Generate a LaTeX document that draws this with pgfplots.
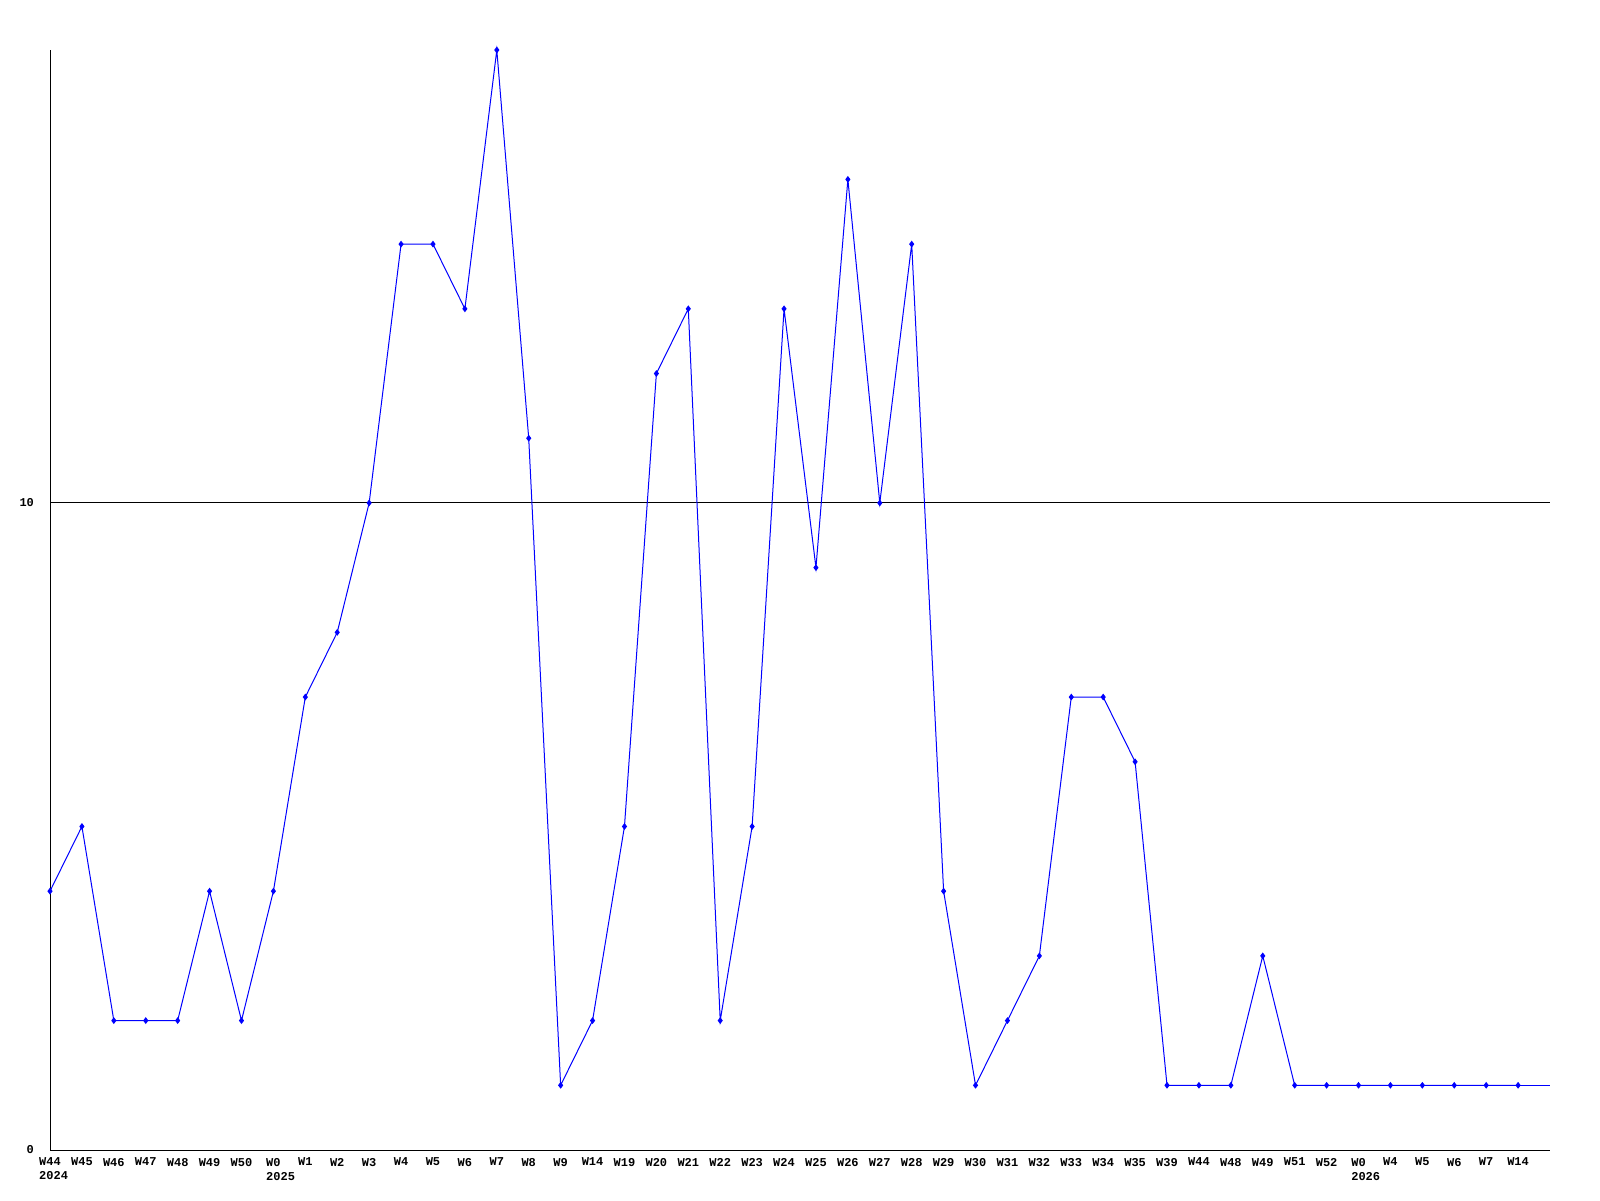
\documentclass[border=0pt]{standalone}
\usepackage{fontspec}
\setmainfont{Liberation Mono}
\usepackage{pgfplots}
\pgfplotsset{compat=1.18}
\begin{document}
\begin{tikzpicture}
\path[use as bounding box] (0,0) rectangle (800pt,600pt);
\begin{axis}[
  at={(25pt,25pt)}, anchor=south west,
  scale only axis, width=750pt, height=550pt,
  xmin=0, xmax=47, ymin=0, ymax=17,
  enlargelimits=false, clip=false,
  axis x line=bottom, axis y line=left,
  axis line style={black, line width=0.5pt, -},
  major tick length=0pt,
  ytick={0,10}, yticklabels={0,10},
  ymajorgrids, grid style={black, line width=0.5pt},
  xtick={0,...,46},
  xticklabels={W44\\\rlap{2024}\phantom{W44},W45,W46,W47,W48,W49,W50,W0\\\rlap{2025}\phantom{W0},W1,W2,W3,W4,W5,W6,W7,W8,W9,W14,W19,W20,W21,W22,W23,W24,W25,W26,W27,W28,W29,W30,W31,W32,W33,W34,W35,W39,W44,W48,W49,W51,W52,W0\\\rlap{2026}\phantom{W0},W4,W5,W6,W7,W14},
  ticklabel style={font=\fontsize{6}{7}\selectfont\bfseries},
  xticklabel style={align=center, anchor=north, yshift=-0.5pt},
  yticklabel style={anchor=east, xshift=-4.5pt},
  /pgf/number format/assume math mode=true,
]
\addplot[blue, line width=0.5pt, forget plot] coordinates {(46,1) (47,1)};
\addplot[blue, line width=0.5pt, mark=diamond*, mark size=1.3pt, mark options={fill=blue, draw=blue}] coordinates {
(0,4) (1,5) (2,2) (3,2) (4,2) (5,4) (6,2) (7,4) (8,7) (9,8) (10,10) (11,14) (12,14) (13,13) (14,17) (15,11) (16,1)
(17,2) (18,5) (19,12) (20,13) (21,2) (22,5) (23,13) (24,9) (25,15) (26,10) (27,14) (28,4) (29,1) (30,2) (31,3)
(32,7) (33,7) (34,6) (35,1) (36,1) (37,1) (38,3) (39,1) (40,1) (41,1) (42,1) (43,1) (44,1) (45,1) (46,1)
};
\end{axis}
\end{tikzpicture}
\end{document}
